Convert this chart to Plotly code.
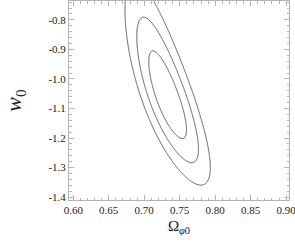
import numpy as np
import plotly.graph_objects as go

# Likelihood-contour parameters
center_omega = 0.733
center_w = -1.0625
sigma_omega = 0.0175
sigma_w = 0.0971
rho = -0.78
skew_w = 0.04                  # stretch of the contours toward larger w
levels = [2.30, 6.17, 11.8]    # delta chi^2 for 1, 2, 3 sigma

x_ticks = [0.60, 0.65, 0.70, 0.75, 0.80, 0.85, 0.90]
x_tick_text = ["0.60", "0.65", "0.70", "0.75", "0.80", "0.85", "0.90"]
y_ticks = [-0.8, -0.9, -1.0, -1.1, -1.2, -1.3, -1.4]
y_tick_text = ["-0.8", "-0.9", "-1.0", "-1.1", "-1.2", "-1.3", "-1.4"]

om = np.linspace(0.58, 0.92, 500)
ww = np.linspace(-1.5, -0.65, 500)
O, W = np.meshgrid(om, ww)
zx = (O - center_omega) / sigma_omega
u = (W - center_w) / sigma_w
zw = u - skew_w * u**2
chi2 = (zx**2 - 2 * rho * zx * zw + zw**2) / (1 - rho**2)

fig = go.Figure()
for lv in levels:
    fig.add_trace(go.Contour(
        x=om, y=ww, z=chi2,
        contours=dict(start=lv, end=lv, size=1, coloring="lines"),
        line=dict(color="#555555", width=1),
        colorscale=[[0, "#555555"], [1, "#555555"]],
        showscale=False, hoverinfo="skip",
    ))

axis_common = dict(
    showline=True, linecolor="#b4b4b4", linewidth=1, mirror="ticks",
    ticks="inside", ticklen=5, tickcolor="#b4b4b4", tickwidth=1,
    showgrid=False, zeroline=False,
    ticklabeloverflow="allow",
    tickfont=dict(family="Liberation Serif", size=11, color="#222"),
)
fig.update_layout(
    width=295, height=245,
    margin=dict(l=69, r=6, t=1, b=45),
    paper_bgcolor="white", plot_bgcolor="white",
    showlegend=False,
    xaxis=dict(range=[0.594, 0.904], tickvals=x_ticks, ticktext=x_tick_text,
               automargin="bottom",
               minor=dict(dtick=0.01, ticks="inside", ticklen=2.5, tickcolor="#b4b4b4"),
               title=dict(text="Ω<sub><i>φ</i>0</sub>", standoff=5,
                          font=dict(family="Liberation Serif", size=15, color="#222")),
               **axis_common),
    yaxis=dict(range=[-1.41, -0.736], tickvals=y_ticks, ticktext=y_tick_text,
               automargin="left",
               minor=dict(dtick=0.02, ticks="inside", ticklen=2.5, tickcolor="#b4b4b4"),
               title=dict(text="<i>w</i><sub>0</sub>", standoff=20,
                          font=dict(family="Liberation Serif", size=22, color="#222")),
               **axis_common),
)
fig.write_html("out.html", config={"displayModeBar": False},
               post_script="document.body.style.margin='0';")
